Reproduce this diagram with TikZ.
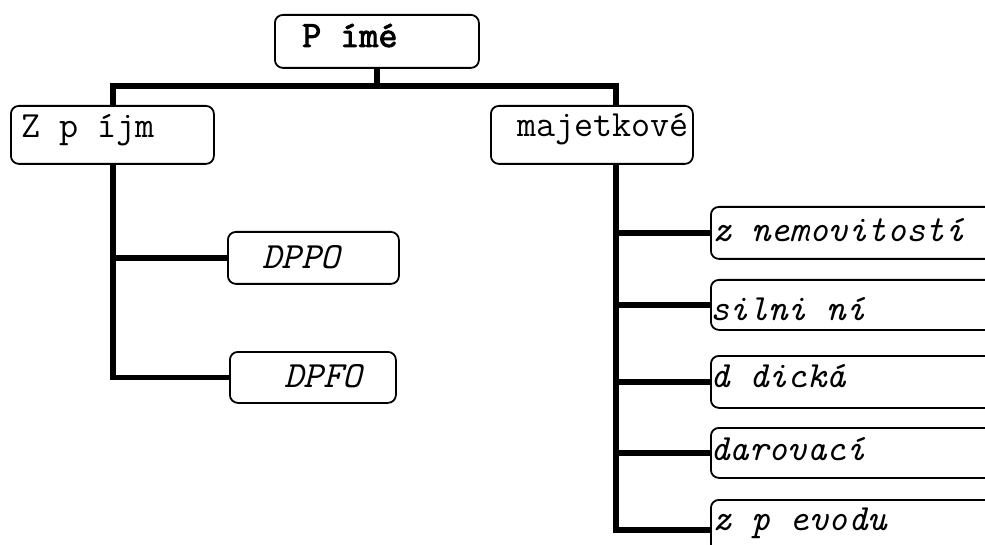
\documentclass[tikz,border=0pt]{standalone}
\usepackage{fontspec}
\newfontfamily\heavymono[FakeBold=2.5]{Latin Modern Mono}
\usetikzlibrary{backgrounds}
\begin{document}
\begin{tikzpicture}[x=1pt,y=-1pt,
  box/.style={draw, line width=1.8pt, rounded corners=8pt, fill=white,
    anchor=north west, inner sep=0pt},
  conn/.style={line width=5.5pt, line join=miter},
  lbl/.style={anchor=base west, inner sep=0pt, font=\fontsize{37}{40}\selectfont\ttfamily},
  ilbl/.style={lbl, font=\fontsize{37}{40}\selectfont\ttfamily\itshape},
  blbl/.style={lbl, font=\fontsize{37}{40}\selectfont\heavymono}]
\useasboundingbox (0,0) rectangle (985,545);

% boxes
\node[box, minimum width=204pt, minimum height=53pt] (top) at (274,14) {};
\node[box, minimum width=203pt, minimum height=58pt] (left) at (10,105) {};
\node[box, minimum width=202pt, minimum height=58pt] (right) at (490,105) {};
\node[box, minimum width=171pt, minimum height=52pt] (dppo) at (227,231) {};
\node[box, minimum width=166pt, minimum height=51pt] (dpfo) at (229,351) {};
\node[box, minimum width=300pt, minimum height=52pt] (r1) at (710,206) {};
\node[box, minimum width=300pt, minimum height=50pt] (r2) at (710,279) {};
\node[box, minimum width=300pt, minimum height=52pt] (r3) at (710,355) {};
\node[box, minimum width=300pt, minimum height=50pt] (r4) at (710,427) {};
\node[box, minimum width=300pt, minimum height=60pt] (r5) at (710,499) {};

% labels
\node[blbl] (top-t) at (302,47) {P ímé};
\node[lbl] (left-t) at (21,138) {Z p íjm};
\node[lbl] (right-t) at (517,137) {majetkové};
\node[ilbl] (dppo-t) at (262,269) {DPPO};
\node[ilbl] (dpfo-t) at (284,387) {DPFO};
\node[ilbl] (r1-t) at (712,242) {z nemovitostí};
\node[ilbl] (r2-t) at (710,320) {silni ní};
\node[ilbl] (r3-t) at (710,387) {d dická};
\node[ilbl] (r4-t) at (710,460) {darovací};
\node[ilbl] (r5-t) at (712,530) {z p evodu};

% stems of the tree
\coordinate (ls) at (113,86);
\coordinate (rs) at (616,86);

\begin{scope}[on background layer]
  \draw[conn] (top.south) -- (top.south |- ls);
  \draw[conn] (ls |- left.north) -- (ls) -- (rs) -- (rs |- right.north);
  \draw[conn] (ls |- left.south) |- (dpfo.west);
  \draw[conn] (ls |- dppo.west) -- (dppo.west);
  \draw[conn] (rs |- right.south) |- (r5.west);
  \draw[conn] (rs |- r1.west) -- (r1.west);
  \draw[conn] (rs |- r2.west) -- (r2.west);
  \draw[conn] (rs |- r3.west) -- (r3.west);
  \draw[conn] (rs |- r4.west) -- (r4.west);
\end{scope}
\end{tikzpicture}
\end{document}
